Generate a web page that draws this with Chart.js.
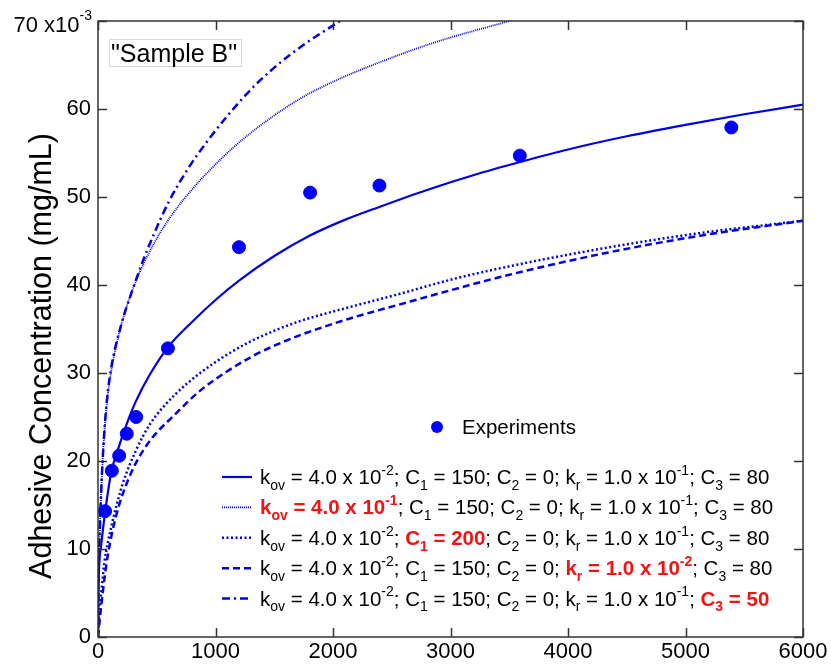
<!DOCTYPE html>
<html>
<head>
<meta charset="utf-8">
<script src="https://cdn.jsdelivr.net/npm/chart.js@4"></script>
<style>
  html, body { margin: 0; padding: 0; background: #fff; }
  #wrap { width: 831px; height: 667px; }
</style>
</head>
<body>
<div id="wrap"><canvas id="chart" width="831" height="667"></canvas></div>
<script>
// measured adhesive concentration, "Sample B"
const expTime = [60, 118, 180, 245, 325, 595, 1200, 1805, 2395, 3590, 5390];
const expConc = [14.3, 18.9, 20.6, 23.1, 25.0, 32.8, 44.3, 50.5, 51.3, 54.7, 57.9];

// model: kov = 4.0e-2, C1 = 150, C2 = 0, kr = 1.0e-1, C3 = 80
const baseTime = [0, 6, 26, 62, 111, 182, 244, 323, 440, 600, 800, 1000, 1200, 1500, 1800, 2100, 2400, 2800, 3200, 3600, 4000, 4500, 5000, 5500, 6000];
const baseConc = [0, 6.5, 10.3, 14.3, 18.6, 21.8, 24.2, 26.8, 29.8, 33.0, 35.8, 38.3, 40.5, 43.3, 45.6, 47.4, 48.9, 50.8, 52.5, 54.0, 55.4, 56.9, 58.2, 59.4, 60.5];

// kov = 4.0e-1
const kovTime = [0, 5, 15, 30, 50, 75, 110, 170, 250, 340, 480, 620, 850, 1150, 1450, 1750, 2050, 2300, 2850, 3500];
const kovConc = [0, 7.0, 12.0, 17.5, 22.5, 26.5, 30.0, 34.0, 37.8, 41.0, 44.8, 47.8, 51.6, 55.6, 58.8, 61.4, 63.4, 64.8, 67.5, 70.0];

// C1 = 200
const c1Time = [0, 10, 26, 54, 111, 210, 323, 443, 660, 870, 1100, 1300, 1500, 1720, 2145, 2570, 3000, 3421, 4272, 5123, 6000];
const c1Conc = [0, 2.5, 4.8, 8.4, 12.4, 17.4, 21.2, 24.2, 27.6, 30.0, 32.1, 33.6, 34.8, 35.9, 37.5, 39.0, 40.6, 41.9, 44.1, 45.9, 47.3];

// kr = 1.0e-2
const krTime = [0, 15, 40, 80, 153, 267, 420, 664, 870, 1100, 1300, 1500, 1720, 2145, 2570, 3000, 3421, 4272, 5123, 6000];
const krConc = [0, 2.0, 5.0, 9.0, 13.7, 18.2, 21.9, 25.4, 28.0, 30.2, 31.8, 33.1, 34.3, 36.2, 37.8, 39.4, 40.9, 43.5, 45.6, 47.3];

// C3 = 50
const c3Time = [0, 5, 15, 30, 50, 75, 110, 200, 285, 370, 470, 600, 770, 940, 1100, 1300, 1500, 1750, 2060];
const c3Conc = [0, 7.0, 12.0, 17.5, 22.5, 26.8, 30.4, 35.6, 39.1, 42.3, 45.6, 49.4, 53.3, 56.5, 59.2, 62.2, 64.7, 67.3, 70.0];

const xTicks = [0, 1000, 2000, 3000, 4000, 5000, 6000];
const yTicks = [0, 10, 20, 30, 40, 50, 60, 70];

// *...* = red bold, _{..} subscript, ^{..} superscript
const legendLabels = [
  'k_{ov} = 4.0 x 10^{-2}; C_{1} = 150; C_{2} = 0; k_{r} = 1.0 x 10^{-1}; C_{3} = 80',
  '*k_{ov} = 4.0 x 10^{-1}*; C_{1} = 150; C_{2} = 0; k_{r} = 1.0 x 10^{-1}; C_{3} = 80',
  'k_{ov} = 4.0 x 10^{-2}; *C_{1} = 200*; C_{2} = 0; k_{r} = 1.0 x 10^{-1}; C_{3} = 80',
  'k_{ov} = 4.0 x 10^{-2}; C_{1} = 150; C_{2} = 0; *k_{r} = 1.0 x 10^{-2}*; C_{3} = 80',
  'k_{ov} = 4.0 x 10^{-2}; C_{1} = 150; C_{2} = 0; k_{r} = 1.0 x 10^{-1}; *C_{3} = 50*',
];

const FONT = '"Liberation Sans", Arial, Helvetica, sans-serif';
const BLUE = '#0000ff';
const LINE = '#0000e0';
const RED = '#f01414';
const FRAME = '#333';

const pts = (xs, ys) => xs.map((x, i) => ({ x: x, y: ys[i] }));

function curve(xs, ys, width, dash) {
  return {
    data: pts(xs, ys),
    showLine: true,
    borderColor: LINE,
    borderWidth: width,
    borderDash: dash,
    pointRadius: 0,
    cubicInterpolationMode: 'monotone',
  };
}

// split a label into runs of {text, kind, emph}
function parseRich(s) {
  const runs = [];
  let emph = false, buf = '';
  const flush = () => { if (buf) runs.push({ text: buf, kind: 'n', emph }); buf = ''; };
  for (let i = 0; i < s.length; i++) {
    const ch = s[i];
    if (ch === '*') { flush(); emph = !emph; continue; }
    if ((ch === '_' || ch === '^') && s[i + 1] === '{') {
      flush();
      const end = s.indexOf('}', i);
      runs.push({ text: s.slice(i + 2, end), kind: ch === '_' ? 'sub' : 'sup', emph });
      i = end;
      continue;
    }
    buf += ch;
  }
  flush();
  return runs;
}

function drawRich(ctx, s, x, y, size) {
  const small = Math.round(size * 0.68);
  parseRich(s).forEach(r => {
    const sz = r.kind === 'n' ? size : small;
    ctx.font = (r.emph ? 'bold ' : '') + sz + 'px ' + FONT;
    ctx.fillStyle = r.emph ? RED : '#000';
    let dy = 0;
    if (r.kind === 'sub') dy = size * 0.28;
    if (r.kind === 'sup') dy = -size * 0.45;
    ctx.fillText(r.text, x, y + dy);
    x += ctx.measureText(r.text).width;
  });
}

const decorations = {
  id: 'decorations',
  afterDraw(chart) {
    const { ctx, chartArea: a, scales: { x, y } } = chart;
    ctx.save();

    // frame with inward ticks on all four sides
    ctx.strokeStyle = FRAME;
    ctx.lineWidth = 1.5;
    ctx.strokeRect(a.left, a.top, a.right - a.left, a.bottom - a.top);
    ctx.beginPath();
    xTicks.forEach(v => {
      const px = Math.round(x.getPixelForValue(v)) + 0.5;
      ctx.moveTo(px, a.bottom); ctx.lineTo(px, a.bottom - 9);
      ctx.moveTo(px, a.top); ctx.lineTo(px, a.top + 9);
    });
    yTicks.forEach(v => {
      const py = Math.round(y.getPixelForValue(v)) + 0.5;
      ctx.moveTo(a.left, py); ctx.lineTo(a.left + 9, py);
      ctx.moveTo(a.right, py); ctx.lineTo(a.right - 9, py);
    });
    ctx.stroke();

    // top tick label with exponent
    ctx.fillStyle = '#000';
    ctx.textBaseline = 'alphabetic';
    ctx.textAlign = 'right';
    ctx.font = '14px ' + FONT;
    const supW = ctx.measureText('-3').width;
    ctx.fillText('-3', 92, 20);
    ctx.font = '22px ' + FONT;
    ctx.fillText('70 x10', 92 - supW, 32);

    // y axis title
    ctx.save();
    ctx.translate(51, 356);
    ctx.rotate(-Math.PI / 2);
    ctx.textAlign = 'center';
    ctx.font = '30.5px ' + FONT;
    ctx.fillText('Adhesive Concentration (mg/mL)', 0, 0);
    ctx.restore();

    // sample tag
    ctx.fillStyle = '#fff';
    ctx.fillRect(109, 39, 132, 27);
    ctx.strokeStyle = '#d8d8d8';
    ctx.lineWidth = 1;
    ctx.strokeRect(109.5, 39.5, 132, 27);
    ctx.fillStyle = '#000';
    ctx.textAlign = 'left';
    ctx.font = '25px ' + FONT;
    ctx.fillText('"Sample B"', 111, 61.5);

    // legend
    const exp = chart.data.datasets[0];
    ctx.fillStyle = exp.backgroundColor;
    ctx.beginPath();
    ctx.arc(437, 427, 6, 0, Math.PI * 2);
    ctx.fill();
    ctx.fillStyle = '#000';
    ctx.font = '20.5px ' + FONT;
    ctx.textBaseline = 'middle';
    ctx.fillText('Experiments', 462, 428);

    ctx.textBaseline = 'alphabetic';
    legendLabels.forEach((lab, i) => {
      const ds = chart.data.datasets[i + 1];
      const ly = 477 + i * 30.4;
      ctx.strokeStyle = ds.borderColor;
      ctx.lineWidth = ds.borderWidth;
      ctx.setLineDash(ds.borderDash || []);
      ctx.beginPath();
      ctx.moveTo(222, ly);
      ctx.lineTo(252, ly);
      ctx.stroke();
      ctx.setLineDash([]);
      drawRich(ctx, lab, 260, ly + 7, 20.5);
    });

    ctx.restore();
  }
};

new Chart(document.getElementById('chart'), {
  type: 'scatter',
  data: {
    datasets: [
      {
        data: pts(expTime, expConc),
        backgroundColor: BLUE,
        borderColor: BLUE,
        pointRadius: 6.5,
        pointHoverRadius: 6.5,
        showLine: false,
      },
      curve(baseTime, baseConc, 2.2, []),
      curve(kovTime, kovConc, 1.8, [1, 1]),
      curve(c1Time, c1Conc, 2.5, [2, 2.5]),
      curve(krTime, krConc, 2.5, [7, 4]),
      curve(c3Time, c3Conc, 2.5, [8, 4, 2, 4]),
    ],
  },
  options: {
    responsive: false,
    animation: false,
    events: [],
    layout: { padding: { top: 21, right: 28, left: 0, bottom: 0 } },
    plugins: { legend: { display: false }, tooltip: { enabled: false } },
    scales: {
      x: {
        type: 'linear', min: 0, max: 6000,
        afterBuildTicks(s) { s.ticks = xTicks.map(v => ({ value: v })); },
        afterFit(s) { s.height = 30; },
        ticks: {
          font: { family: FONT, size: 22 }, color: '#000', padding: 2, maxRotation: 0,
          callback: v => String(v),
        },
        grid: { display: false, drawTicks: false },
        border: { display: false },
      },
      y: {
        min: 0, max: 70,
        afterBuildTicks(s) { s.ticks = yTicks.map(v => ({ value: v })); },
        afterFit(s) { s.width = 98; },
        ticks: {
          font: { family: FONT, size: 22 }, color: '#000', padding: 7,
          callback: v => (v === 70 ? '' : String(v)),
        },
        grid: { display: false, drawTicks: false },
        border: { display: false },
      },
    },
  },
  plugins: [decorations],
});
</script>
</body>
</html>
